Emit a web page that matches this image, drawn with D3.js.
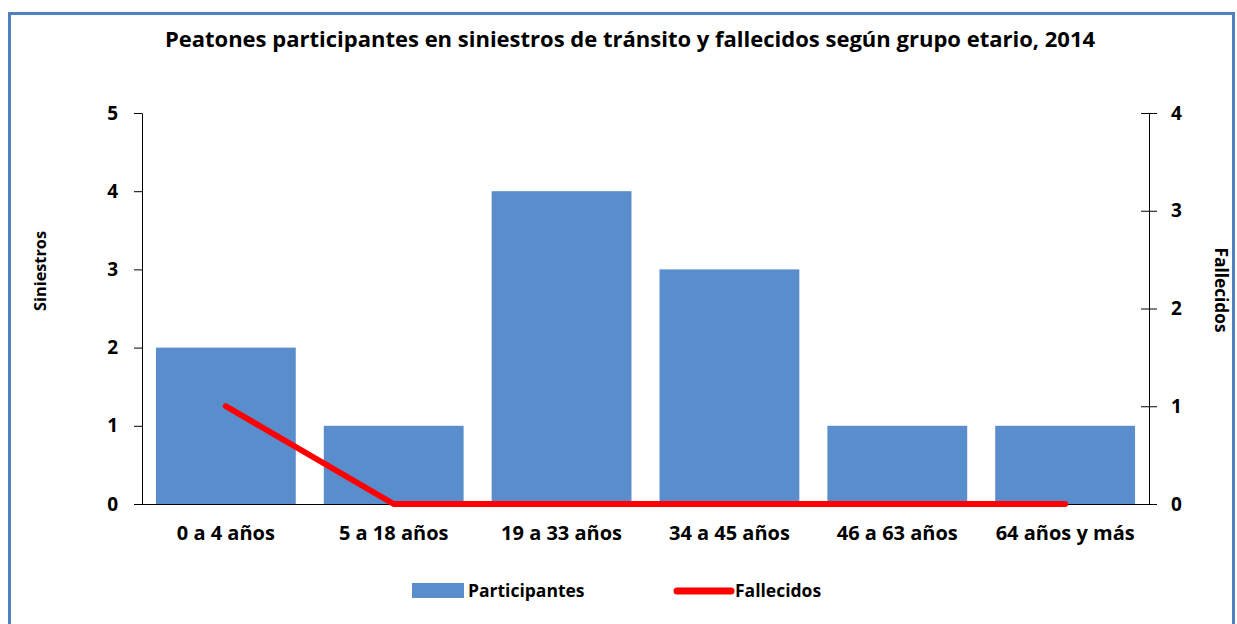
<!DOCTYPE html>
<html>
<head>
<meta charset="utf-8">
<script src="https://cdn.jsdelivr.net/npm/d3@7"></script>
<style>
  body { margin: 0; background: #fff; }
  text { font-family: "Open Sans", Lato, sans-serif; font-weight: bold; fill: #000; }
</style>
</head>
<body>
<svg id="chart" width="1237" height="624"></svg>
<script>
// chart data
const categories = ["0 a 4 años", "5 a 18 años", "19 a 33 años", "34 a 45 años", "46 a 63 años", "64 años y más"];
const participantes = [2, 1, 4, 3, 1, 1];
const fallecidos = [1, 0, 0, 0, 0, 0];
const leftTicks = [0, 1, 2, 3, 4, 5];
const rightTicks = [0, 1, 2, 3, 4];

const svg = d3.select("#chart");
const W = 1237, H = 624;
const plot = { left: 142, right: 1149, top: 113, bottom: 504 };

// frame (blue border, cut at the bottom)
svg.append("path")
    .attr("d", `M9.5,${H} L9.5,13.5 L${W - 3.5},13.5 L${W - 3.5},${H}`)
    .attr("fill", "none")
    .attr("stroke", "#4F81BD")
    .attr("stroke-width", 3);

// title
svg.append("text")
    .attr("x", 630).attr("y", 47)
    .attr("text-anchor", "middle")
    .style("font-size", "22px")
    .text("Peatones participantes en siniestros de tránsito y fallecidos según grupo etario, 2014");

// scales
const x = d3.scaleBand()
    .domain(categories)
    .range([plot.left, plot.right])
    .paddingInner(0.167)
    .paddingOuter(0.083);

const yLeft = d3.scaleLinear().domain([0, 5]).range([plot.bottom, plot.top]);
const yRight = d3.scaleLinear().domain([0, 4]).range([plot.bottom, plot.top]);

// bars
svg.append("g").selectAll("rect")
    .data(participantes)
    .enter().append("rect")
    .attr("x", (d, i) => x(categories[i]))
    .attr("y", d => yLeft(d))
    .attr("width", x.bandwidth())
    .attr("height", d => yLeft(0) - yLeft(d))
    .attr("fill", "#5A8DCB");

// axes
const leftAxis = svg.append("g")
    .attr("transform", `translate(${plot.left},0)`)
    .call(d3.axisLeft(yLeft).tickValues(leftTicks).tickFormat(d3.format("d"))
        .tickSize(8).tickSizeOuter(0).tickPadding(16));

const rightAxis = svg.append("g")
    .attr("transform", `translate(${plot.right},0)`)
    .call(d3.axisRight(yRight).tickValues(rightTicks).tickFormat(d3.format("d"))
        .tickSize(8).tickSizeOuter(0).tickPadding(14));
// right ticks cross the axis line
rightAxis.selectAll(".tick line").attr("x1", -8);

const bottomAxis = svg.append("g")
    .attr("transform", `translate(0,${plot.bottom})`)
    .call(d3.axisBottom(x).tickSize(0).tickSizeOuter(0).tickPadding(22));
bottomAxis.select(".domain").attr("d", `M${plot.left - 8},0.5H${plot.right + 8}`);

[leftAxis, rightAxis, bottomAxis].forEach(a => {
    a.selectAll("text").style("font-size", "19px").attr("fill", "#000");
    a.selectAll("line, path").attr("stroke", "#000");
});
bottomAxis.selectAll("text").style("font-size", "20px");

// axis titles
svg.append("text")
    .attr("transform", "translate(46,271) rotate(-90)")
    .attr("text-anchor", "middle")
    .style("font-size", "16.3px")
    .text("Siniestros");

svg.append("text")
    .attr("transform", "translate(1215,290) rotate(90)")
    .attr("text-anchor", "middle")
    .style("font-size", "17.3px")
    .text("Fallecidos");

// line for fallecidos
const line = d3.line()
    .x((d, i) => x(categories[i]) + x.bandwidth() / 2)
    .y(d => yRight(d));

svg.append("path")
    .datum(fallecidos)
    .attr("d", line)
    .attr("fill", "none")
    .attr("stroke", "#FF0000")
    .attr("stroke-width", 6)
    .attr("stroke-linecap", "round")
    .attr("stroke-linejoin", "round");

// legend
const legend = svg.append("g");
legend.append("rect")
    .attr("x", 412).attr("y", 583)
    .attr("width", 52).attr("height", 15)
    .attr("fill", "#5A8DCB");
legend.append("text")
    .attr("x", 468).attr("y", 597)
    .style("font-size", "17.5px")
    .text("Participantes");
legend.append("line")
    .attr("x1", 677).attr("x2", 731)
    .attr("y1", 591).attr("y2", 591)
    .attr("stroke", "#FF0000")
    .attr("stroke-width", 7)
    .attr("stroke-linecap", "round");
legend.append("text")
    .attr("x", 735).attr("y", 597)
    .style("font-size", "17.5px")
    .text("Fallecidos");
</script>
</body>
</html>
